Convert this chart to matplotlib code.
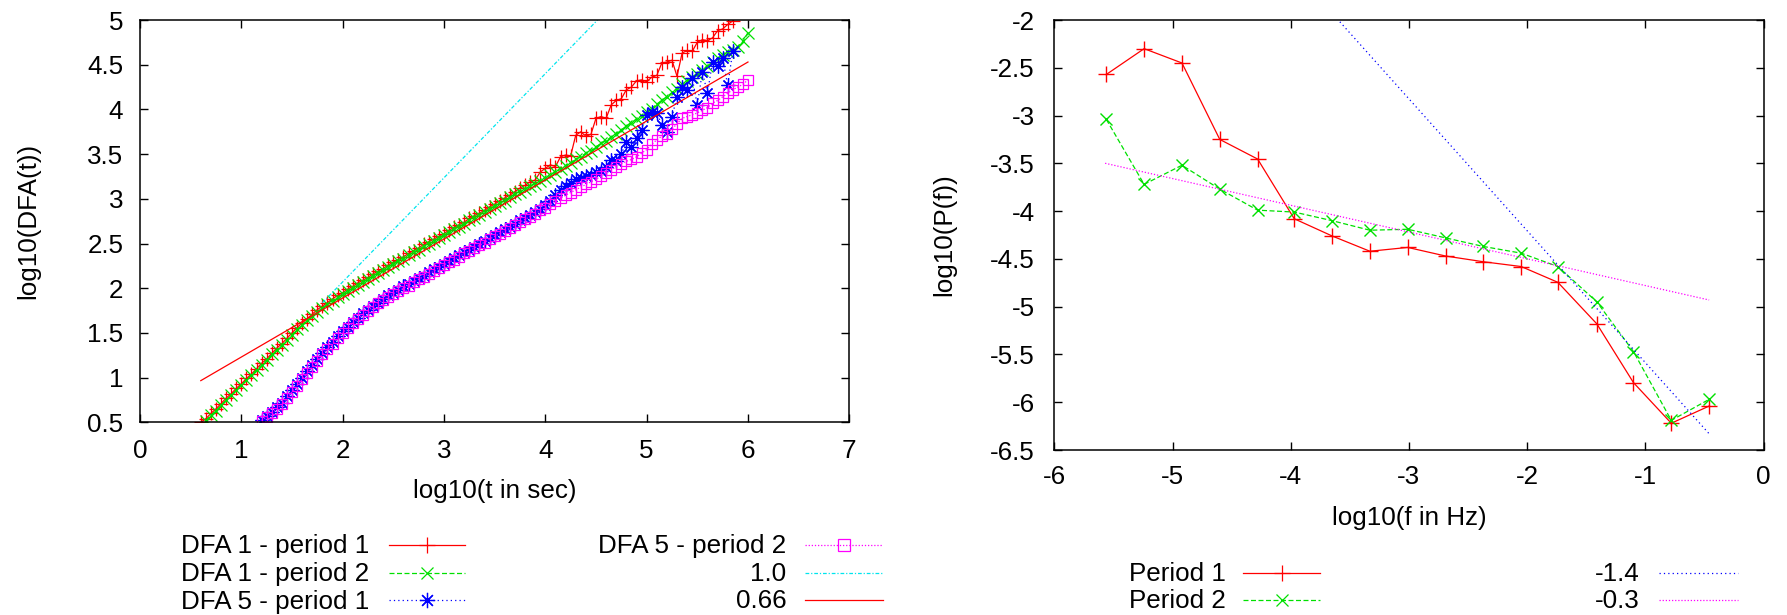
import numpy as np
import matplotlib
matplotlib.use('Agg')
import matplotlib.pyplot as plt
from matplotlib.lines import Line2D
from matplotlib.ticker import FuncFormatter, MultipleLocator

plt.rcParams['font.family'] = ['Liberation Sans', 'DejaVu Sans']
plt.rcParams['axes.unicode_minus'] = False
FS = 18.7

# ---------------- data: left panel (DFA) ----------------
STEP = 0.05
dfa1_p1_x0 = 0.60
dfa1_p1 = [0.50, 0.54, 0.60, 0.65, 0.71, 0.77, 0.82, 0.88, 0.93, 0.99,
           1.04, 1.10, 1.16, 1.21, 1.27, 1.33, 1.38, 1.44, 1.50, 1.56,
           1.61, 1.66, 1.71, 1.76, 1.80, 1.84, 1.88, 1.92, 1.95, 1.99,
           2.02, 2.06, 2.09, 2.12, 2.16, 2.19, 2.22, 2.26, 2.29, 2.32,
           2.35, 2.39, 2.42, 2.45, 2.49, 2.52, 2.55, 2.58, 2.61, 2.65,
           2.68, 2.71, 2.74, 2.78, 2.81, 2.84, 2.87, 2.91, 2.94, 2.98,
           3.01, 3.04, 3.08, 3.12, 3.15, 3.19, 3.21, 3.30, 3.34, 3.38,
           3.36, 3.47, 3.49, 3.48, 3.71, 3.75, 3.70, 3.72, 3.90, 3.92,
           3.90, 4.05, 4.10, 4.12, 4.22, 4.25, 4.32, 4.33, 4.31, 4.36,
           4.38, 4.52, 4.53, 4.55, 4.37, 4.63, 4.66, 4.65, 4.75, 4.78,
           4.77, 4.80, 4.88, 4.90, 4.95, 4.99]

dfa1_p2_x0 = 0.65
dfa1_p2 = [0.52, 0.58, 0.63, 0.69, 0.75, 0.80, 0.86, 0.92, 0.97, 1.03,
           1.09, 1.14, 1.20, 1.26, 1.31, 1.37, 1.42, 1.48, 1.54, 1.59,
           1.64, 1.69, 1.73, 1.78, 1.82, 1.86, 1.90, 1.93, 1.97, 2.00,
           2.04, 2.07, 2.10, 2.14, 2.17, 2.20, 2.24, 2.27, 2.30, 2.33,
           2.37, 2.40, 2.43, 2.47, 2.50, 2.53, 2.56, 2.59, 2.63, 2.66,
           2.69, 2.72, 2.76, 2.79, 2.82, 2.85, 2.89, 2.92, 2.95, 2.98,
           3.02, 3.05, 3.08, 3.11, 3.14, 3.17, 3.20, 3.23, 3.27, 3.30,
           3.33, 3.37, 3.40, 3.44, 3.47, 3.51, 3.54, 3.58, 3.62, 3.65,
           3.69, 3.73, 3.77, 3.81, 3.85, 3.89, 3.93, 3.97, 4.01, 4.06,
           4.10, 4.14, 4.19, 4.23, 4.28, 4.32, 4.36, 4.40, 4.44, 4.49,
           4.53, 4.57, 4.61, 4.64, 4.67, 4.70, 4.76, 4.86]

dfa5_p1_x0 = 1.20
dfa5_p1 = [0.53, 0.57, 0.62, 0.67, 0.72, 0.79, 0.86, 0.93, 1.00, 1.07,
           1.14, 1.21, 1.28, 1.34, 1.40, 1.46, 1.52, 1.57, 1.62, 1.67,
           1.72, 1.76, 1.80, 1.84, 1.88, 1.92, 1.95, 1.98, 2.02, 2.05,
           2.08, 2.11, 2.14, 2.18, 2.21, 2.24, 2.27, 2.30, 2.34, 2.37,
           2.40, 2.43, 2.46, 2.50, 2.53, 2.56, 2.59, 2.63, 2.66, 2.69,
           2.72, 2.76, 2.79, 2.82, 2.85, 2.89, 2.93, 2.98, 3.04, 3.10,
           3.14, 3.18, 3.22, 3.23, 3.26, 3.27, 3.30, 3.31, 3.36, 3.43,
           3.42, 3.50, 3.64, 3.58, 3.68, 3.77, 3.94, 3.97, 3.96, 3.83,
           3.75, 3.92, 4.14, 4.25, 4.22, 4.35, 4.05, 4.42, 4.18, 4.53,
           4.48, 4.57, 4.27, 4.65]

dfa5_p2_x0 = 1.20
dfa5_p2 = [0.52, 0.56, 0.60, 0.65, 0.70, 0.77, 0.84, 0.91, 0.98, 1.05,
           1.12, 1.19, 1.26, 1.32, 1.38, 1.44, 1.50, 1.56, 1.61, 1.66,
           1.70, 1.75, 1.79, 1.83, 1.87, 1.90, 1.94, 1.97, 2.00, 2.03,
           2.07, 2.10, 2.13, 2.16, 2.19, 2.23, 2.26, 2.29, 2.32, 2.35,
           2.39, 2.42, 2.45, 2.48, 2.51, 2.55, 2.58, 2.61, 2.64, 2.67,
           2.71, 2.74, 2.77, 2.80, 2.83, 2.87, 2.90, 2.94, 2.98, 3.01,
           3.04, 3.07, 3.10, 3.13, 3.16, 3.19, 3.22, 3.25, 3.29, 3.32,
           3.36, 3.39, 3.42, 3.44, 3.47, 3.51, 3.55, 3.61, 3.66, 3.70,
           3.73, 3.78, 3.84, 3.90, 3.92, 3.94, 3.96, 3.99, 4.02, 4.07,
           4.10, 4.14, 4.18, 4.22, 4.25, 4.28, 4.33]

dfa_fit_labels = ['1.0', '0.66']
dfa_fit_slope = [1.165, 0.66]
dfa_fit_intercept = [-0.26, 0.57]
dfa_fit_xrange = [(1.8, 6.0), (0.6, 6.0)]

# ---------------- data: right panel (spectrum) ----------------
log_f = [-5.56, -5.24, -4.92, -4.60, -4.28, -3.97, -3.65, -3.33, -3.01,
         -2.69, -2.37, -2.05, -1.74, -1.41, -1.10, -0.78, -0.46]
psd_period1 = [-2.57, -2.30, -2.45, -3.25, -3.455, -4.08, -4.26, -4.42, -4.38,
               -4.47, -4.53, -4.58, -4.745, -5.18, -5.795, -6.22, -6.04]
psd_period2 = [-3.04, -3.72, -3.52, -3.77, -3.99, -4.01, -4.10, -4.20, -4.19,
               -4.28, -4.37, -4.44, -4.58, -4.95, -5.47, -6.19, -5.97]

psd_fit_labels = ['-1.4', '-0.3']
psd_fit_slope = [-1.38, -0.28]
psd_fit_intercept = [-6.965, -5.059]
psd_fit_xrange = [(-5.57, -0.46), (-5.57, -0.46)]

# ---------------- styling ----------------
RED, GREEN, BLUE, MAGENTA, CYAN = '#ff0000', '#00e000', '#0000ff', '#ff00ff', '#00e5ee'
ASTER = (8, 2, 0)
W, H = 1787, 615
fig = plt.figure(figsize=(W / 100, H / 100), dpi=100)


def fx(px):
    return px / W


def fy(py):
    return 1 - py / H


axL = fig.add_axes([fx(140), fy(422.3), (849.3 - 140) / W, (422.3 - 20) / H])
axR = fig.add_axes([fx(1054.3), fy(450), (1763.5 - 1054.3) / W, (450 - 20) / H])


def xs(x0, ys):
    return np.round(x0 + STEP * np.arange(len(ys)), 3)


LW = 0.9
series_styles = [
    (dfa1_p1_x0, dfa1_p1, dict(color=RED, ls='-', marker='+', ms=10)),
    (dfa1_p2_x0, dfa1_p2, dict(color=GREEN, ls=(0, (4, 2)), marker='x', ms=8.5)),
    (dfa5_p1_x0, dfa5_p1, dict(color=BLUE, ls=(0, (1, 2.5)), marker=ASTER, ms=10)),
    (dfa5_p2_x0, dfa5_p2, dict(color=MAGENTA, ls=(0, (1, 1.5)), marker='s', ms=7.8,
                               mfc='none')),
]
for x0, ys, st in series_styles:
    axL.plot(xs(x0, ys), ys, lw=LW, mew=0.9, **st)

fit_styles = [dict(color=CYAN, ls=(0, (3, 1.5, 1, 1.5))), dict(color=RED, ls='-')]
for a, b, (xa, xb), st in zip(dfa_fit_slope, dfa_fit_intercept, dfa_fit_xrange, fit_styles):
    xx = np.array([xa, xb])
    axL.plot(xx, a * xx + b, lw=LW, **st)

axR.plot(log_f, psd_period1, color=RED, ls='-', lw=LW, marker='+', ms=11, mew=1)
axR.plot(log_f, psd_period2, color=GREEN, ls=(0, (4, 2)), lw=LW, marker='x', ms=9, mew=1)
psd_fit_styles = [dict(color=BLUE, ls=(0, (1, 2.5))), dict(color=MAGENTA, ls=(0, (1, 1.5)))]
for a, b, (xa, xb), st in zip(psd_fit_slope, psd_fit_intercept, psd_fit_xrange, psd_fit_styles):
    xx = np.array([xa, xb])
    axR.plot(xx, a * xx + b, lw=LW, **st)

fmt = FuncFormatter(lambda v, _: f'{v + 0:g}')
for ax, xl, yl, xmaj, ymaj in [(axL, (0, 7), (0.5, 5), 1, 0.5), (axR, (-6, 0), (-6.5, -2), 1, 0.5)]:
    ax.set_xlim(*xl)
    ax.set_ylim(*yl)
    ax.xaxis.set_major_locator(MultipleLocator(xmaj))
    ax.yaxis.set_major_locator(MultipleLocator(ymaj))
    ax.xaxis.set_major_formatter(fmt)
    ax.yaxis.set_major_formatter(fmt)
    ax.tick_params(direction='in', length=5.8, width=1, top=True, right=True,
                   labelsize=FS, colors='black')
    for s in ax.spines.values():
        s.set_linewidth(1.1)

axL.tick_params(axis='x', pad=12)
axL.tick_params(axis='y', pad=12)
axR.tick_params(axis='x', pad=11)
axR.tick_params(axis='y', pad=14)

axL.set_xlabel('log10(t in sec)', fontsize=FS)
axL.xaxis.set_label_coords(0.5, (422.3 - 491) / 402.3)
axL.xaxis.label.set_va('center')
axL.set_ylabel('log10(DFA(t))', fontsize=FS)
axL.yaxis.set_label_coords((28.7 - 140) / 709.3, 0.5)
axL.yaxis.label.set_va('center')

axR.set_xlabel('log10(f in Hz)', fontsize=FS)
axR.xaxis.set_label_coords(0.5, (450 - 518) / 430)
axR.xaxis.label.set_va('center')
axR.set_ylabel('log10(P(f))', fontsize=FS)
axR.yaxis.set_label_coords((944.6 - 1054.3) / 709.2, 0.5)
axR.yaxis.label.set_va('center')


# ---------------- legends (gnuplot style, text right of sample) ----------------
def entry(text, text_right, row_y, x0, x1, line_kw, marker=None, mkw=None):
    fig.text(fx(text_right), fy(row_y + 8.5), text, ha='right', va='baseline', fontsize=FS)
    fig.add_artist(Line2D([fx(x0), fx(x1)], [fy(row_y)] * 2, transform=fig.transFigure,
                          lw=LW, **line_kw))
    if marker is not None:
        fig.add_artist(Line2D([fx((x0 + x1) / 2)], [fy(row_y)], transform=fig.transFigure,
                              ls='none', marker=marker, **mkw))


rows = [545, 572.7, 600]
entry('DFA 1 - period 1', 369, rows[0], 388.5, 465, dict(color=RED, ls='-'), '+',
      dict(color=RED, ms=12, mew=0.9))
entry('DFA 1 - period 2', 369, rows[1], 388.5, 465, dict(color=GREEN, ls=(0, (4, 2))), 'x',
      dict(color=GREEN, ms=9, mew=0.9))
entry('DFA 5 - period 1', 369, rows[2], 388.5, 465, dict(color=BLUE, ls=(0, (1, 2.5))), ASTER,
      dict(color=BLUE, ms=11, mew=0.9))
entry('DFA 5 - period 2', 786.5, rows[0], 805, 882.5, dict(color=MAGENTA, ls=(0, (1, 1.5))), 's',
      dict(color=MAGENTA, ms=8, mew=0.9, mfc='none'))
entry(dfa_fit_labels[0], 786.5, rows[1], 805, 882.5, dict(color=CYAN, ls=(0, (3, 1.5, 1, 1.5))))
entry(dfa_fit_labels[1], 786.5, rows[2], 805, 882.5, dict(color=RED, ls='-'))

entry('Period 1', 1226, rows[1], 1243, 1320, dict(color=RED, ls='-'), '+',
      dict(color=RED, ms=12, mew=0.9))
entry('Period 2', 1226, rows[2], 1243, 1320, dict(color=GREEN, ls=(0, (4, 2))), 'x',
      dict(color=GREEN, ms=9, mew=0.9))
entry(psd_fit_labels[0], 1640, rows[1], 1659, 1738, dict(color=BLUE, ls=(0, (1, 2.5))))
entry(psd_fit_labels[1], 1640, rows[2], 1659, 1738, dict(color=MAGENTA, ls=(0, (1, 1.5))))

fig.savefig('out.png', dpi=100)
